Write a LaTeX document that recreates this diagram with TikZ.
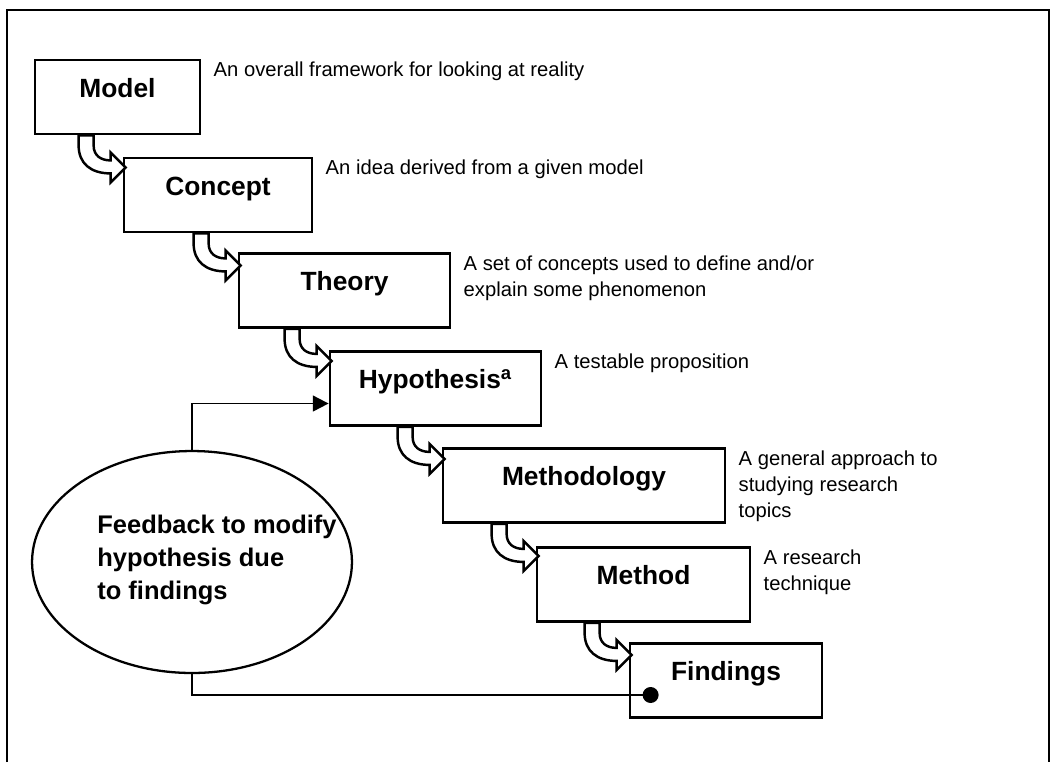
\documentclass[tikz,border=0pt]{standalone}
\usepackage{fontspec}
\setmainfont{Liberation Sans}
\usetikzlibrary{shapes.geometric, arrows.meta, positioning, calc}
\tikzset{
  stage/.style={rectangle, draw=black, fill=white, line width=1.6pt,
    minimum height=1.48cm, inner sep=0pt, text height=11pt, text depth=11pt,
    font=\fontsize{15}{18}\selectfont\bfseries},
  note/.style={anchor=north west, inner sep=0pt, align=left,
    font=\fontsize{11.5}{14.8}\selectfont},
  bubble/.style={ellipse, draw=black, line width=1.3pt, inner sep=0pt,
    minimum width=6.4cm, minimum height=4.44cm},
  bubbletext/.style={align=left, font=\fontsize{14.5}{18.8}\selectfont\bfseries},
  hollow/.style={draw=black, fill=white, line width=1.4pt, line join=miter},
  feedline/.style={line width=1.1pt},
  feedarrow/.style={-{Triangle[length=9pt, width=9pt]}, line width=1.1pt},
  frame/.style={line width=1.2pt},
  turnarrow/.pic={
    \path[hollow] (0,0) -- (0,10) .. controls (0,28) and (12,38) .. (32,38)
      -- (32,47) -- (47,32) -- (32,17) -- (32,25)
      .. controls (22,25) and (15,20) .. (15,10) -- (15,0) -- cycle;
  }
}

\begin{document}
\begin{tikzpicture}[x=0.02cm, y=-0.02cm]
  \useasboundingbox (0,0) rectangle (1051,762);

  % Outer frame, open at the bottom
  \draw[frame] (7,762) -- (7,10) -- (1049,10) -- (1049,762);

  % Stages
  \node[stage, minimum width=3.3cm] (model) at (117.5,97) {Model};
  \node[stage, minimum width=3.76cm] (concept) at (218,195) {Concept};
  \node[stage, minimum width=4.22cm] (theory) at (344.5,290.5) {Theory};
  \node[stage, minimum width=4.22cm] (hyp) at (435.5,388.5) {Hypothesis\textsuperscript{a}};
  \node[stage, minimum width=5.64cm] (methodology) at (584,485.5) {Methodology};
  \node[stage, minimum width=4.26cm] (method) at (643.5,584.5) {Method};
  \node[stage, minimum width=3.84cm] (findings) at (726,680.5) {Findings};

  % Notes beside the stages
  \node[note] (modelnote) at ($(model.north east)+(12,3)$) {An overall framework for looking at reality};
  \node[note] (conceptnote) at ($(concept.north east)+(12,3)$) {An idea derived from a given model};
  \node[note] (theorynote) at ($(theory.north east)+(12,3)$) {A set of concepts used to define and/or\\explain some phenomenon};
  \node[note] (hypnote) at ($(hyp.north east)+(12,3)$) {A testable proposition};
  \node[note] (methodologynote) at ($(methodology.north east)+(12,3)$) {A general approach to\\studying research\\topics};
  \node[note] (methodnote) at ($(method.north east)+(12,3)$) {A research\\technique};

  % Turning arrows from stage to stage
  \pic at ($(model.south -| concept.west)+(-44,0)$) {turnarrow};
  \pic at ($(concept.south -| theory.west)+(-44,0)$) {turnarrow};
  \pic at ($(theory.south -| hyp.west)+(-44,0)$) {turnarrow};
  \pic at ($(hyp.south -| methodology.west)+(-44,0)$) {turnarrow};
  \pic at ($(methodology.south -| method.west)+(-44,0)$) {turnarrow};
  \pic at ($(method.south -| findings.west)+(-44,0)$) {turnarrow};

  % Feedback loop
  \node[bubble] (fb) at (192,562) {};
  \node[bubbletext] (fbtext) at ($(fb.center)+(25,-2)$) {Feedback to modify\\hypothesis due\\to findings};
  \coordinate (dot) at ($(findings.west)+(22,14.5)$);
  \fill (dot) circle (0.16cm);
  \draw[feedline] (dot) -| (fb.south);
  \draw[feedarrow] (fb.north) |- ($(hyp.west)+(0,15)$);
\end{tikzpicture}
\end{document}
